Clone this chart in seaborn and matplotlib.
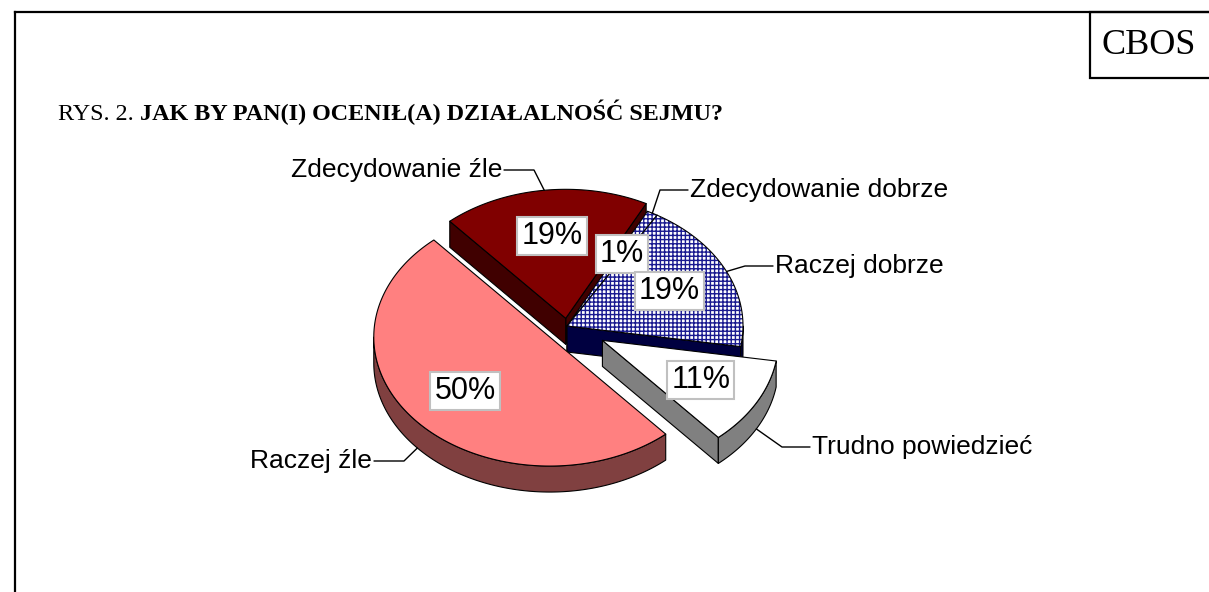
import numpy as np
import matplotlib
matplotlib.use("Agg")
import matplotlib.pyplot as plt
from matplotlib.patches import Polygon, Rectangle
import seaborn as sns

# dane
categories = ["Zdecydowanie dobrze", "Raczej dobrze", "Trudno powiedzieć", "Raczej źle", "Zdecydowanie źle"]
values = [1, 19, 11, 50, 19]
pct_labels = [f"{v}%" for v in values]

title_prefix = "RYS. 2. "
title_main = "JAK BY PAN(I) OCENIŁ(A) DZIAŁALNOŚĆ SEJMU?"
source_label = "CBOS"

# styl wycinków
top_colors = ["white", "white", "white", "#ff8080", "#800000"]
side_colors = ["#000040", "#000040", "#808080", "#804040", "#400000"]
hatched = [True, True, False, False, False]
explode = [0.0, 0.0, 0.23, 0.13, 0.06]

# geometria w pikselach
cx, cy = 567, 326
rx, ry = 176, 129
depth = 26
start_angle = 62.8
pct_radius = 0.64

# pozycje etykiet kategorii (x, y, wyrównanie)
label_pos = {
    "Zdecydowanie dobrze": (690, 190, "left"),
    "Raczej dobrze": (775, 266, "left"),
    "Trudno powiedzieć": (812, 447, "left"),
    "Raczej źle": (372, 461, "right"),
    "Zdecydowanie źle": (502, 170, "right"),
}

sns.set_theme(style="white")
plt.rcParams["font.family"] = ["Liberation Sans", "DejaVu Sans"]
plt.rcParams["text.color"] = "black"
plt.rcParams["hatch.linewidth"] = 1.0

fig = plt.figure(figsize=(12.09, 5.92), dpi=100)
ax = fig.add_axes([0, 0, 1, 1])
ax.set_xlim(0, 1209)
ax.set_ylim(592, 0)
ax.axis("off")


def pt(theta, r, ox, oy, z=0.0):
    t = np.radians(theta)
    return (cx + ox + rx * r * np.cos(t), cy + oy - ry * r * np.sin(t) + z)


def arc(lo, hi, ox, oy, z=0.0):
    ts = np.linspace(lo, hi, max(3, int(abs(hi - lo) * 2)))
    return [pt(t, 1, ox, oy, z) for t in ts]


total = sum(values)
slices = []
hi = start_angle
for i, v in enumerate(values):
    lo = hi - 360 * v / total
    mid = (lo + hi) / 2
    ox = rx * explode[i] * np.cos(np.radians(mid))
    oy = -ry * explode[i] * np.sin(np.radians(mid))
    slices.append((i, lo, hi, mid, ox, oy))
    hi = lo

# od tyłu do przodu
order = sorted(slices, key=lambda s: -np.sin(np.radians(s[3])))

for i, lo, hi, mid, ox, oy in order:
    apex_t = pt(0, 0, ox, oy)
    apex_b = pt(0, 0, ox, oy, depth)
    side_kw = dict(facecolor=side_colors[i], edgecolor="black", lw=0.8, joinstyle="round")

    # ściany radialne
    if np.cos(np.radians(lo)) > 0:
        ax.add_patch(Polygon([apex_t, pt(lo, 1, ox, oy), pt(lo, 1, ox, oy, depth), apex_b], **side_kw))
    if np.cos(np.radians(hi)) < 0:
        ax.add_patch(Polygon([apex_t, pt(hi, 1, ox, oy), pt(hi, 1, ox, oy, depth), apex_b], **side_kw))

    # ściana łukowa (tylko przednia część)
    for k in range(-2, 3):
        a = max(lo, -180 + 360 * k)
        b = min(hi, 360 * k)
        if a < b:
            top = arc(a, b, ox, oy)
            bot = arc(a, b, ox, oy, depth)
            ax.add_patch(Polygon(top + bot[::-1], **side_kw))

    # górna powierzchnia
    top_poly = [apex_t] + arc(lo, hi, ox, oy)
    ax.add_patch(Polygon(top_poly, facecolor=top_colors[i], edgecolor="none"))
    if hatched[i]:
        ax.add_patch(Polygon(top_poly, facecolor="none", edgecolor="#1a1a90", lw=0, hatch="++++"))
    ax.add_patch(Polygon(top_poly, facecolor="none", edgecolor="black", lw=0.8, joinstyle="round"))

# etykiety procentowe
for i, lo, hi, mid, ox, oy in slices:
    x, y = pt(mid, pct_radius, ox, oy)
    ax.text(x, y, pct_labels[i], ha="center", va="center", fontsize=22, color="black",
            bbox=dict(boxstyle="square,pad=0.13", facecolor="white", edgecolor="#c0c0c0", lw=1.5))

# etykiety kategorii z liniami odniesienia
for i, lo, hi, mid, ox, oy in slices:
    name = categories[i]
    tx, ty, ha = label_pos[name]
    if np.sin(np.radians(mid)) >= 0:
        anchor = pt(mid, 1, ox, oy)
    else:
        anchor = pt(mid, 1, ox, oy, depth)
    elbow_x = tx - 30 if ha == "left" else tx + 32
    ax.plot([tx - 2 if ha == "left" else tx + 2, elbow_x, anchor[0]], [ty, ty, anchor[1]],
            color="black", lw=1.0)
    ax.text(tx, ty, name, ha=ha, va="center", fontsize=19, color="black")

# ramka
ax.plot([15, 1209], [12, 12], color="black", lw=1.6, solid_capstyle="projecting")
ax.plot([15, 15], [12, 592], color="black", lw=1.6, solid_capstyle="projecting")
ax.add_patch(Rectangle((1090, 12), 130, 66, facecolor="white", edgecolor="black", lw=1.6))
ax.text(1149, 46, source_label, ha="center", va="center", fontsize=26, family="Liberation Serif")

# tytuł
t1 = ax.text(58, 115, title_prefix, ha="left", va="center", fontsize=17.4, family="Liberation Serif")
ax.annotate(title_main, xy=(1, 0), xycoords=t1, ha="left", va="bottom", fontsize=17.4,
            family="Liberation Serif", fontweight="bold")

fig.savefig("out.png", dpi=100)
